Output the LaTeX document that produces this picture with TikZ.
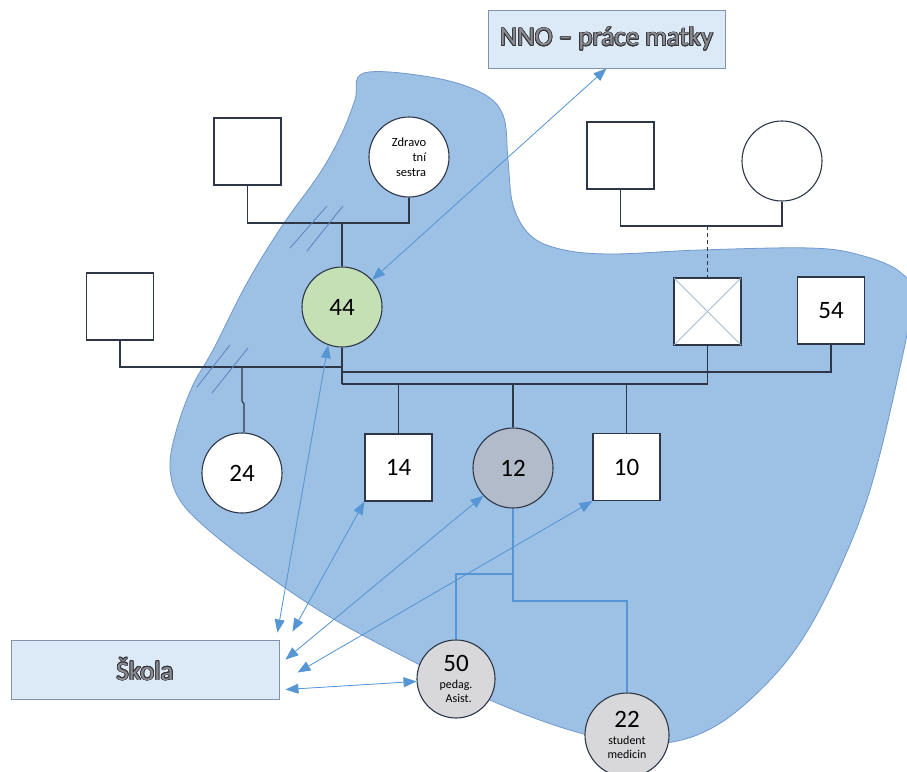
\documentclass[tikz,border=0pt]{standalone}
\usepackage{fontspec}
\setmainfont{Carlito}
\usepackage[copies]{contour}
\contourlength{0.7pt}
\usetikzlibrary{arrows.meta,calc}

\definecolor{blobfill}{RGB}{157,192,229}
\definecolor{blobedge}{RGB}{112,152,206}
\definecolor{linec}{RGB}{45,55,72}
\definecolor{arrowc}{RGB}{86,150,212}
\definecolor{slashc}{RGB}{92,132,188}
\definecolor{crossc}{RGB}{165,190,214}
\definecolor{boxfill}{RGB}{220,233,247}
\definecolor{boxedge}{RGB}{128,146,172}
\definecolor{wordartedge}{RGB}{50,52,58}
\definecolor{wordartfill}{RGB}{140,140,145}
\definecolor{greenf}{RGB}{197,224,180}
\definecolor{bluegray}{RGB}{178,187,202}
\definecolor{lightgray}{RGB}{216,216,218}

\newcommand{\wordart}[1]{\contour{wordartedge}{\textcolor{wordartfill}{#1}}}

\tikzset{
  ln/.style={draw=linec, line width=1.2pt},
  sq/.style={rectangle, draw=linec, line width=1.1pt, fill=white, minimum size=67pt, inner sep=0pt,
             font=\fontsize{25}{28}\selectfont},
  circ/.style={circle, draw=linec, line width=1.1pt, fill=white, minimum size=80pt, inner sep=0pt,
               font=\fontsize{25}{28}\selectfont},
  labelbox/.style={rectangle, draw=boxedge, line width=0.9pt, fill=boxfill, inner sep=0pt,
                   font=\fontsize{27}{32}\selectfont},
  bi/.style={{Triangle[length=13pt,width=10pt]}-{Triangle[length=13pt,width=10pt]}, draw=arrowc, fill=arrowc, line width=0.8pt},
  bluetree/.style={draw=arrowc, line width=1.8pt},
  slash/.style={draw=slashc, line width=0.8pt},
  helper/.style={circ, fill=lightgray, align=center, font=\fontsize{12}{14}\selectfont},
}

\begin{document}
\begin{tikzpicture}[x=1pt,y=-1pt]
\useasboundingbox (0,0) rectangle (907,771);
\clip (0,0) rectangle (907,771);

% household area
\draw[blobedge, fill=blobfill, line width=0.8pt]
  plot[smooth cycle, tension=0.6] coordinates {
    (364,73) (430,77) (480,92) (503,115) (508,160) (513,205) (530,235) (560,249)
    (610,254) (700,250) (810,248) (860,255) (900,272) (912,300) (895,390) (870,490)
    (842,563) (808,630) (772,678) (722,722) (672,742) (615,740) (560,727) (490,700)
    (420,665) (330,617) (260,570) (205,527) (178,497) (170,465) (177,428) (193,385)
    (213,350) (247,283) (282,226) (320,173) (342,133) (355,100)};

% outside boxes
\node[labelbox, minimum width=237pt, minimum height=58pt] (nno) at (606.5,39) {\wordart{NNO – práce matky}};
\node[labelbox, minimum width=268pt, minimum height=59pt] (skola) at (145,669.5) {\wordart{Škola}};

% persons
\node[sq] (pA) at (247.5,151.5) {};
\node[circ, font=\fontsize{12.5}{15}\selectfont, align=right] (zdr) at (409,157) {Zdravo\\tní\\sestra};
\node[sq] (pB) at (620.5,155.5) {};
\node[circ] (pC) at (782,161) {};
\node[sq] (lsq) at (120,306.5) {};
\node[circ, fill=greenf] (n44) at (342,307) {44};
\node[sq] (xsq) at (707.5,311.5) {};
\node[sq] (s54) at (831,310.5) {54};
\node[circ] (c24) at (242,473) {24};
\node[sq] (s14) at (398.5,467.5) {14};
\node[circ, fill=bluegray] (c12) at (513,468) {12};
\node[sq] (s10) at (626.5,467) {10};
\node[helper, minimum size=78pt] (c50) at (456,679)
  {{\fontsize{25}{25}\selectfont 50}\\[3pt]pedag.\\\ \ Asist.};
\node[helper, minimum size=84pt] (c22) at (627,735)
  {{\fontsize{25}{25}\selectfont 22}\\[3pt]student\\medicin};

% deceased mark
\draw[crossc, line width=0.8pt] ([shift={(0.6,0.6)}]xsq.north west) -- ([shift={(-0.6,-0.6)}]xsq.south east);
\draw[crossc, line width=0.8pt] ([shift={(-0.6,0.6)}]xsq.north east) -- ([shift={(0.6,-0.6)}]xsq.south west);

% junction points
\coordinate (m1) at (342,223);
\coordinate (m2) at (342,367);
\coordinate (m3) at (342,372);
\coordinate (m4) at (342,384);
\coordinate (m5) at (707.5,226);
\coordinate (j1) at (513,574);
\coordinate (j2) at (513,601);

% family lines
\draw[ln] (pA.south) -- (pA.south |- m1) -- (zdr.south |- m1) -- (zdr.south);
\draw[ln] (m1) -- (n44.north);
\draw[ln] (pB.south) -- (pB.south |- m5) -- (pC.south |- m5) -- (pC.south);
\draw[ln, dashed, dash pattern=on 4pt off 3pt] (m5) -- (xsq.north);
\draw[ln] (lsq.south) -- (lsq.south |- m2) -- (m2);
\draw[ln] (c24.north |- m2) -- ++(0,34) -- ++(2,3) -- (c24.north -| 244,0);
\draw[ln] (n44.south) -- (m4);
\draw[ln] (m3) -- (s54.south |- m3) -- (s54.south);
\draw[ln] (m4) -- (xsq.south |- m4) -- (xsq.south);
\draw[ln] (s14.north |- m4) -- (s14.north);
\draw[ln] (c12.north |- m4) -- (c12.north);
\draw[ln] (s10.north |- m4) -- (s10.north);

% separation marks
\draw[slash] (290,248) -- (327,206);
\draw[slash] (307,251) -- (343,206);
\draw[slash] (197,387) -- (230,345);
\draw[slash] (212,393) -- (248,348);

% helpers' lines
\draw[bluetree] (c12.south) -- (j1) -- (c50.north |- j1) -- (c50.north);
\draw[bluetree] (j1) -- (j2) -- (c22.north |- j2) -- (c22.north);

% relations
\draw[bi] (nno.south) -- (n44);
\draw[bi] (n44.250) -- ($(skola.north east)+(-2,-7)$);
\draw[bi] (s14.south west) -- ($(skola.north east)+(13,-8)$);
\draw[bi] (c12.223) -- ($(skola.north east)+(6,20)$);
\draw[bi] (s10.south west) -- ($(skola.north east)+(18,33)$);
\draw[bi] (c50) -- ($(skola.east)+(6,20)$);
\end{tikzpicture}
\end{document}
